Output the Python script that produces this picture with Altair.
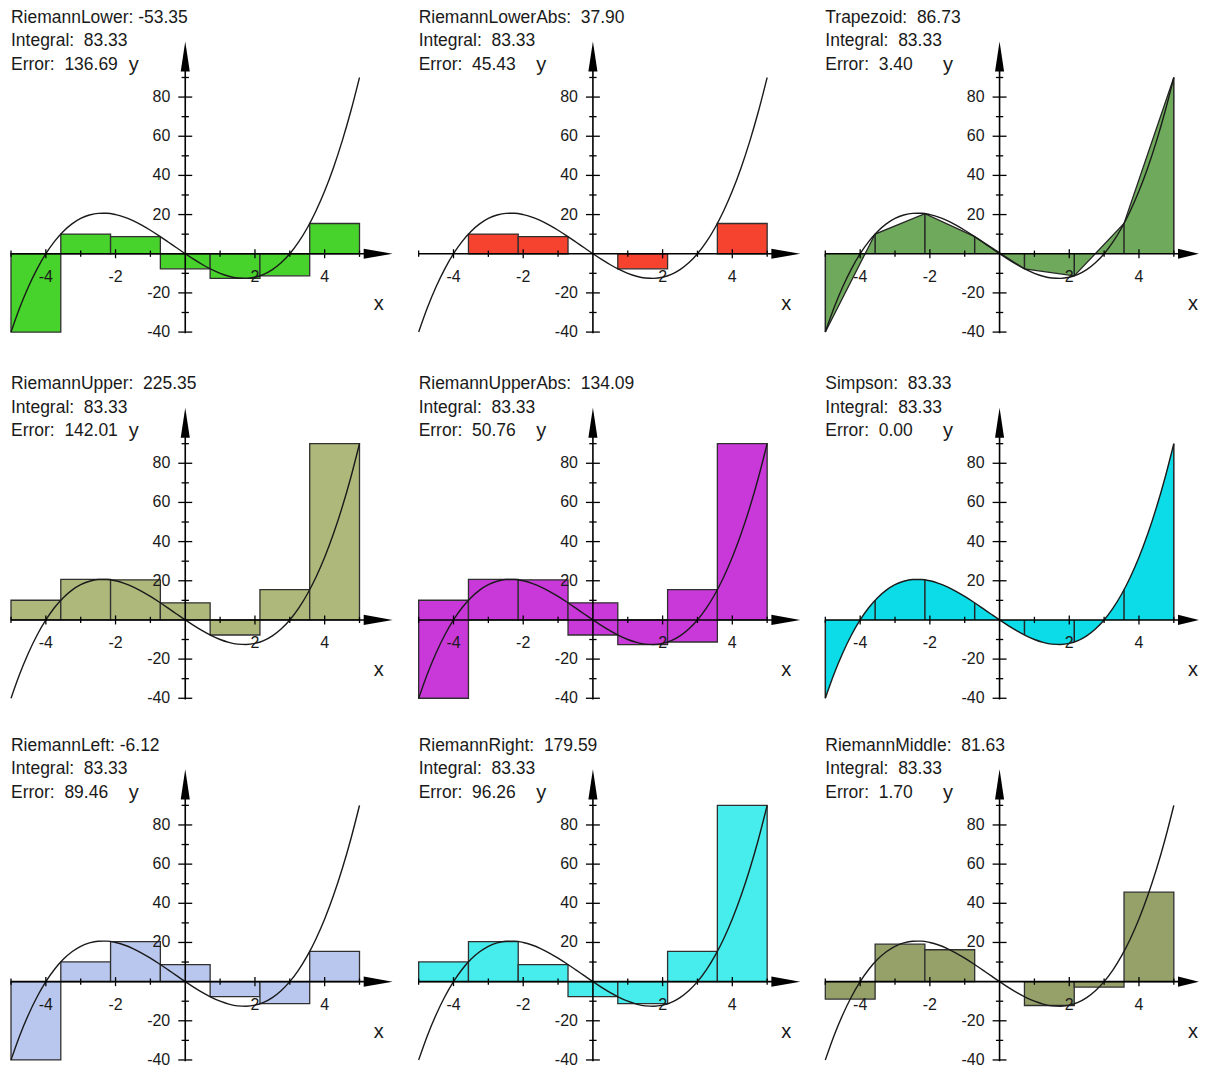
import altair as alt
import pandas as pd

# ---------------- data ----------------
EDGES = [-5.0, -3.571, -2.143, -0.714, 0.714, 2.143, 3.571, 5.0]
F_EDGES = [-40.0, 10.06, 20.47, 8.72, -7.70, -11.28, 15.45, 90.0]

CURVE_X = [-5.0, -4.75, -4.5, -4.25, -4.0, -3.75, -3.5, -3.25, -3.0, -2.75,
           -2.5, -2.25, -2.0, -1.75, -1.5, -1.25, -1.0, -0.75, -0.5, -0.25,
           0.0, 0.25, 0.5, 0.75, 1.0, 1.25, 1.5, 1.75, 2.0, 2.25,
           2.5, 2.75, 3.0, 3.25, 3.5, 3.75, 4.0, 4.25, 4.5, 4.75, 5.0]
CURVE_Y = [-40.0, -27.61, -16.88, -7.70, 0.0, 6.33, 11.38, 15.23, 18.0, 19.77,
           20.63, 20.67, 20.0, 18.70, 16.88, 14.61, 12.0, 9.14, 6.13, 3.05,
           0.0, -2.92, -5.63, -8.02, -10.0, -11.48, -12.38, -12.58, -12.0, -10.55,
           -8.13, -4.64, 0.0, 5.89, 13.13, 21.80, 32.0, 43.83, 57.38, 72.73, 90.0]

LOWER = [-40.0, 10.06, 8.72, -7.70, -12.60, -11.28, 15.45]
LOWER_ABS = [0.0, 10.06, 8.72, 0.0, -7.70, 0.0, 15.45]
UPPER = [10.06, 20.75, 20.47, 8.72, -7.70, 15.45, 90.0]
UPPER_ABS_LO = [-40.0, 0.0, 0.0, -7.70, -12.60, -11.28, 0.0]
UPPER_ABS_HI = [10.06, 20.75, 20.47, 8.72, 0.0, 15.45, 90.0]
LEFT = [-40.0, 10.06, 20.47, 8.72, -7.70, -11.28, 15.45]
RIGHT = [10.06, 20.47, 8.72, -7.70, -11.28, 15.45, 90.0]
MIDDLE = [-8.92, 19.13, 16.27, 0.0, -12.19, -2.80, 45.66]

METHODS = ["RiemannLower", "RiemannLowerAbs", "Trapezoid",
           "RiemannUpper", "RiemannUpperAbs", "Simpson",
           "RiemannLeft", "RiemannRight", "RiemannMiddle"]
RESULTS = [-53.35, 37.90, 86.73, 225.35, 134.09, 83.33, -6.12, 179.59, 81.63]
INTEGRAL = 83.33
ERRORS = [136.69, 45.43, 3.40, 142.01, 50.76, 0.00, 89.46, 96.26, 1.70]
COLORS = ["#48d22c", "#f5432f", "#6fa95b",
          "#adb87a", "#c938d8", "#0bdce8",
          "#b9c7ee", "#47ecec", "#96a16a"]

X_MAJOR = [-4, -2, 2, 4]
X_MINOR = [-5, -3, -1, 1, 3, 5]
Y_MAJOR = [-40, -20, 20, 40, 60, 80]
Y_MINOR = [-30, -10, 10, 30, 50, 70, 90]

# ---------------- layout constants ----------------
KX = 34.88          # px per x unit
KY = 1.96           # px per y unit
FONT = "Liberation Sans"
INK = "#1a1a1a"
NB = "\u00a0"


def bars_for(i):
    if METHODS[i] == "RiemannUpperAbs":
        lo, hi = UPPER_ABS_LO, UPPER_ABS_HI
    else:
        vals = {"RiemannLower": LOWER, "RiemannLowerAbs": LOWER_ABS,
                "RiemannUpper": UPPER, "RiemannLeft": LEFT,
                "RiemannRight": RIGHT, "RiemannMiddle": MIDDLE}.get(METHODS[i])
        lo = [min(v, 0.0) for v in vals]
        hi = [max(v, 0.0) for v in vals]
    rows = []
    for k in range(7):
        if hi[k] != lo[k]:
            rows.append({"x": EDGES[k], "x2": EDGES[k + 1], "y": lo[k], "y2": hi[k]})
    return pd.DataFrame(rows)


def fmt(v):
    s = f"{v:.2f}"
    return s if v < 0 else NB + s


def panel(i, w, h, y0, tip):
    xmin = -5.0 - 2.0 / KX
    xmax = xmin + w / KX
    ymax = y0 / KY
    ymin = ymax - h / KY
    xs = alt.Scale(domain=[xmin, xmax], nice=False, zero=False)
    ys = alt.Scale(domain=[ymin, ymax], nice=False, zero=False)

    def X(f):
        return alt.X(f, type="quantitative", scale=xs, axis=None)

    def Y(f):
        return alt.Y(f, type="quantitative", scale=ys, axis=None)

    color = COLORS[i]
    layers = []
    curve = pd.DataFrame({"x": CURVE_X, "y": CURVE_Y, "zero": 0.0})
    nodes = pd.DataFrame({"x": EDGES, "y": F_EDGES, "zero": 0.0})

    method = METHODS[i]
    if method == "Trapezoid":
        layers.append(alt.Chart(nodes).mark_area(
            color=color, opacity=1, line={"color": "#262626", "strokeWidth": 1.3}
        ).encode(x=X("x"), y=Y("y"), y2=alt.Y2("zero")))
        layers.append(alt.Chart(nodes).mark_rule(color="#262626", strokeWidth=1.5)
                      .encode(x=X("x"), y=Y("y"), y2=alt.Y2("zero")))
    elif method == "Simpson":
        layers.append(alt.Chart(curve).mark_area(
            color=color, opacity=1, interpolate="monotone"
        ).encode(x=X("x"), y=Y("y"), y2=alt.Y2("zero")))
        layers.append(alt.Chart(nodes).mark_rule(color="#262626", strokeWidth=1.5)
                      .encode(x=X("x"), y=Y("y"), y2=alt.Y2("zero")))
    else:
        bars = bars_for(i)
        layers.append(alt.Chart(bars).mark_rect(
            fill=color, stroke="#303030", strokeWidth=1.3
        ).encode(x=X("x"), x2=alt.X2("x2"), y=Y("y"), y2=alt.Y2("y2")))

    # the function graph
    layers.append(alt.Chart(curve).mark_line(
        color=INK, strokeWidth=1.4, interpolate="monotone"
    ).encode(x=X("x"), y=Y("y")))

    # axes
    xaxis = pd.DataFrame({"x": [-5.0], "x2": [5.3], "y": [0.0]})
    yaxis = pd.DataFrame({"x": [0.0], "y": [-40.6], "y2": [95.0]})
    layers.append(alt.Chart(xaxis).mark_rule(color="#000", strokeWidth=1.6)
                  .encode(x=X("x"), x2=alt.X2("x2"), y=Y("y")))
    layers.append(alt.Chart(yaxis).mark_rule(color="#000", strokeWidth=1.6)
                  .encode(x=X("x"), y=Y("y"), y2=alt.Y2("y2")))

    # ticks on the x axis
    xt = pd.DataFrame(
        [{"x": v, "y": -2.3, "y2": 2.3} for v in X_MAJOR]
        + [{"x": v, "y": -1.6, "y2": 1.6} for v in X_MINOR])
    layers.append(alt.Chart(xt).mark_rule(color="#000", strokeWidth=1.3)
                  .encode(x=X("x"), y=Y("y"), y2=alt.Y2("y2")))
    # ticks on the y axis
    yt = pd.DataFrame(
        [{"y": v, "x": -0.2, "x2": 0.2} for v in Y_MAJOR]
        + [{"y": v, "x": -0.105, "x2": 0.105} for v in Y_MINOR])
    layers.append(alt.Chart(yt).mark_rule(color="#000", strokeWidth=1.3)
                  .encode(x=X("x"), x2=alt.X2("x2"), y=Y("y")))

    # arrow heads
    xarrow = pd.DataFrame({"x": [5.12, tip], "y": [2.6, 0.0], "y2": [-2.6, 0.0]})
    layers.append(alt.Chart(xarrow).mark_area(color="#000", opacity=1)
                  .encode(x=X("x"), y=Y("y"), y2=alt.Y2("y2")))
    yarrow = pd.DataFrame({"y": [93.0, 108.4], "x": [-0.13, 0.0], "x2": [0.13, 0.0]})
    layers.append(alt.Chart(yarrow).mark_area(color="#000", opacity=1, orient="horizontal")
                  .encode(y=Y("y"), x=X("x"), x2=alt.X2("x2")))

    # tick labels
    xl = pd.DataFrame({"x": X_MAJOR, "y": [-14.5] * len(X_MAJOR),
                       "t": [str(v) for v in X_MAJOR]})
    layers.append(alt.Chart(xl).mark_text(
        font=FONT, fontSize=16, color=INK, align="center", baseline="alphabetic"
    ).encode(x=X("x"), y=Y("y"), text="t:N"))
    yl = pd.DataFrame({"x": [-0.43] * len(Y_MAJOR), "y": Y_MAJOR,
                       "t": [str(v) for v in Y_MAJOR]})
    layers.append(alt.Chart(yl).mark_text(
        font=FONT, fontSize=16, color=INK, align="right", baseline="middle"
    ).encode(x=X("x"), y=Y("y"), text="t:N"))

    # axis names
    names = pd.DataFrame({"x": [5.55, -1.48], "y": [-28.6, 93.4], "t": ["x", "y"]})
    layers.append(alt.Chart(names).mark_text(
        font=FONT, fontSize=20, color=INK, align="center", baseline="alphabetic"
    ).encode(x=X("x"), y=Y("y"), text="t:N"))

    # header text (three lines, top-left of the panel)
    lines = [f"{method}: {fmt(RESULTS[i])}",
             f"Integral: {fmt(INTEGRAL)}",
             f"Error: {fmt(ERRORS[i])}"]
    for txt, dy in zip(lines, [230.8, 207.5, 184.2]):
        layers.append(alt.Chart(pd.DataFrame({"t": [txt]})).mark_text(
            font=FONT, fontSize=17.5, color=INK, align="left", baseline="alphabetic"
        ).encode(x=alt.value(2), y=alt.value(y0 - dy), text="t:N"))

    return alt.layer(*layers).properties(width=w, height=h)


WIDTHS = [390, 389, 376]
ARROW_TIP = [5.95, 5.95, 5.72]
HEIGHTS = [350, 350, 325]
ZERO_Y = [244.5, 245.0, 241.0]

panels = [panel(3 * r + c, WIDTHS[c], HEIGHTS[r], ZERO_Y[r], ARROW_TIP[c])
          for r in range(3) for c in range(3)]

chart = alt.concat(
    *panels, columns=3, bounds="flush",
    spacing=alt.RowColnumber(row=16, column=18)
).properties(padding=0).configure_view(stroke=None)

chart.save("out.html", embed_options={"renderer": "svg", "actions": False})
